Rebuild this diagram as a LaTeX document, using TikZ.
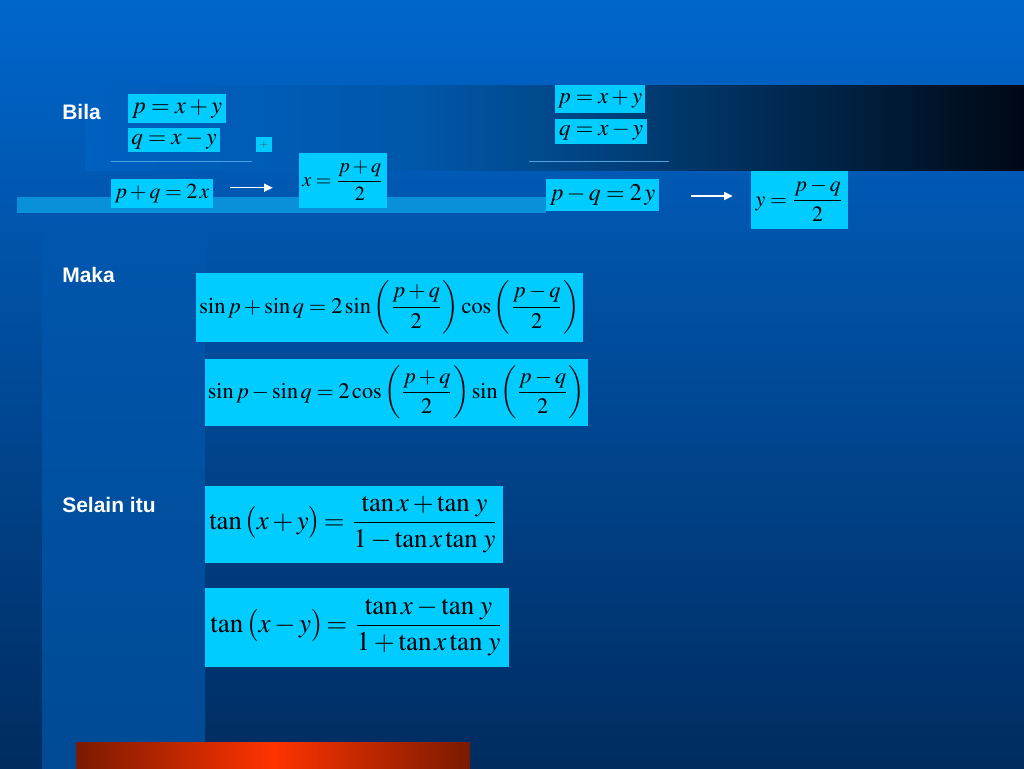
\documentclass[tikz,border=0pt]{standalone}
\usepackage{mathptmx}
\usepackage[no-math]{fontspec}
\usepackage{graphicx}
\newfontfamily\labfont{Liberation Sans}
\usetikzlibrary{arrows.meta}
\definecolor{bgtop}{HTML}{0066CC}
\definecolor{bgbot}{HTML}{002C60}
\definecolor{boxc}{HTML}{00CCFF}
\definecolor{barc}{HTML}{0A90D8}
\definecolor{sepc}{HTML}{4AA3E0}
\definecolor{lbandA}{HTML}{0056AE}
\definecolor{lbandB}{HTML}{004A94}
\definecolor{bandA}{HTML}{0060C0}
\definecolor{bandB}{HTML}{0058AC}
\definecolor{bandC}{HTML}{004A8E}
\definecolor{bandD}{HTML}{000814}
\definecolor{redA}{HTML}{7A1A00}
\definecolor{redB}{HTML}{FF3300}
\newcommand\eqfit[2]{\resizebox{#1}{!}{$\displaystyle #2$}}
\tikzset{
  eqbox/.style={fill=boxc, inner sep=0pt, anchor=center, text=black},
  lab/.style={anchor=base west, inner sep=0pt, text=white, font=\labfont\bfseries\fontsize{15.75}{18}\selectfont},
  arr/.style={draw=white, line width=1.1pt, -{Triangle[length=6.5pt,width=6pt]}},
  sep/.style={draw=sepc, line width=1pt}
}
\begin{document}
\begin{tikzpicture}[x=0.75pt,y=-0.75pt]
\useasboundingbox (0,0) rectangle (1024,768);
% background
\shade[top color=bgtop, bottom color=bgbot] (0,0) rectangle (1024,768);
% left vertical band
\shade[top color=lbandA, bottom color=lbandB] (42,213) rectangle (205,768);
% top band
\shade[left color=bandA, right color=bandB] (85,85) rectangle (400,170);
\shade[left color=bandB, right color=bandC] (400,85) rectangle (540,170);
\shade[left color=bandC, right color=bandD] (540,85) rectangle (1024,170);
% light bar
\fill[barc] (17,197) rectangle (546,213);
% red bar
\shade[left color=redA, right color=redA, middle color=redB] (76,742) rectangle (470,768);

% labels
\node[lab] (bila) at (62,119) {Bila};
\node[lab] (maka) at (62,282) {Maka};
\node[lab] (selain) at (62,512) {Selain itu};

% left derivation
\node[eqbox, minimum width=73.5pt, minimum height=21.75pt] (b1) at (177,108.5) {\eqfit{67.5pt}{p=x+y}};
\node[eqbox, minimum width=69pt, minimum height=18pt] (b2) at (174,140) {\eqfit{64pt}{q=x-y}};
\node[eqbox, minimum width=12pt, minimum height=11.25pt, text=black!70] (plus) at (264,144.5) {\eqfit{6.5pt}{+}};
\draw[sep] (111,161.7) -- (252,161.7);
\node[eqbox, minimum width=76.5pt, minimum height=21.75pt] (b5) at (162,193.5) {\eqfit{71pt}{p+q=2\,x}};
\node[eqbox, minimum width=66pt, minimum height=41.25pt] (b7) at (343,180.5) {\eqfit{61pt}{x=\frac{p+q}{2}}};
\draw[arr, shorten <=12.75pt, shorten >=19.5pt] (b5.east |- 0,187.7) -- (b7.west |- 0,187.7);

% right derivation
\node[eqbox, minimum width=67.5pt, minimum height=21pt] (b8) at (600,99) {\eqfit{63pt}{p=x+y}};
\node[eqbox, minimum width=69pt, minimum height=18.75pt] (b9) at (601,131.5) {\eqfit{63pt}{q=x-y}};
\draw[sep] (529,161.7) -- (669,161.7);
\node[eqbox, minimum width=84.75pt, minimum height=24pt] (b11) at (602.5,195) {\eqfit{79pt}{p-q=2\,y}};
\node[eqbox, minimum width=72.75pt, minimum height=43.5pt] (b13) at (799.5,200) {\eqfit{66pt}{y=\frac{p-q}{2}}};
\draw[arr, shorten <=24pt, shorten >=13.5pt] (b11.east |- 0,196) -- (b13.west |- 0,196);

% sum to product
\node[eqbox, minimum width=290.25pt, minimum height=51.75pt] (s1) at (389.5,307.5)
  {\eqfit{285pt}{\sin p+\sin q=2\sin\left(\frac{p+q}{2}\right)\cos\left(\frac{p-q}{2}\right)}};
\node[eqbox, minimum width=287.25pt, minimum height=50.25pt] (s2) at (396.5,392.5)
  {\eqfit{283pt}{\sin p-\sin q=2\cos\left(\frac{p+q}{2}\right)\sin\left(\frac{p-q}{2}\right)}};

% tangent
\node[eqbox, minimum width=223.5pt, minimum height=57.75pt] (t1) at (354,524.5)
  {\eqfit{217pt}{\tan\,\bigl(x+y\bigr)\!=\frac{\tan x+\tan\,y}{1-\tan x\tan\,y}}};
\node[eqbox, minimum width=228pt, minimum height=59.25pt] (t2) at (357,627.5)
  {\eqfit{220pt}{\tan\,\bigl(x-y\bigr)\!=\frac{\tan x-\tan\,y}{1+\tan x\tan\,y}}};
\end{tikzpicture}
\end{document}
